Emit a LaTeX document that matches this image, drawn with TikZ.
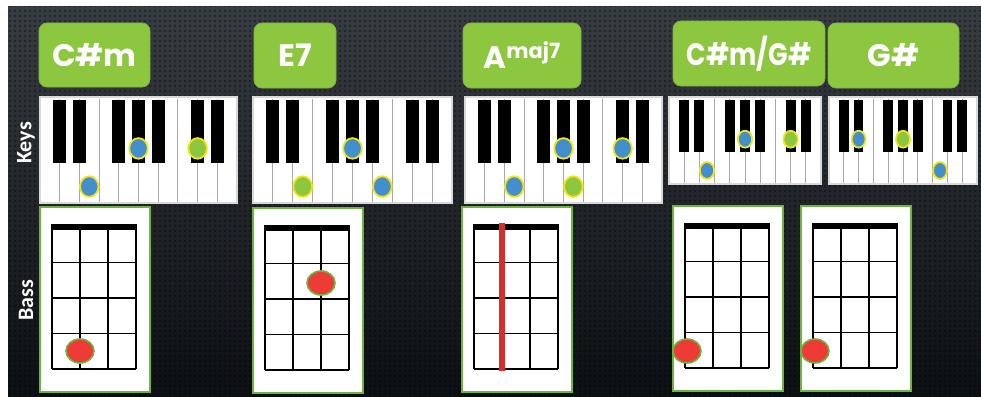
\documentclass[tikz,border=0pt]{standalone}
\usepackage{fontspec}
\newfontfamily\lblfont{Poppins}
\newfontfamily\sidefont{Carlito}
\usetikzlibrary{calc,patterns.meta}
\definecolor{bgtop}{HTML}{383D43}
\definecolor{bgbot}{HTML}{0C0F13}
\definecolor{chordgreen}{HTML}{8DC63F}
\definecolor{chordedge}{HTML}{7DB536}
\definecolor{kbgrey}{HTML}{D8D8D8}
\definecolor{keygrey}{HTML}{A8A8A8}
\definecolor{dotyellow}{HTML}{F2E417}
\definecolor{dotblue}{HTML}{438ECD}
\definecolor{dotgreen}{HTML}{8DC63F}
\definecolor{fretgreen}{HTML}{6DB33F}
\definecolor{fingerred}{HTML}{EE3B36}
\definecolor{barred}{HTML}{D2302C}
\tikzset{
  chord/.style={draw=chordedge, fill=chordgreen, rounded corners=8pt, line width=0.8pt,
    inner sep=0pt, text=white, font=\lblfont\bfseries\fontsize{31}{31}\selectfont},
  kbframe/.style={draw=kbgrey, fill=white, line width=1.6pt, inner sep=0pt, outer sep=0pt},
  keyline/.style={draw=keygrey, line width=0.9pt},
  blackkey/.style={fill=black},
  notedot/.style={draw=dotyellow, line width=1.8pt},
  fretbox/.style={draw=fretgreen, fill=white, line width=1.8pt, inner sep=0pt, outer sep=0pt},
  gridline/.style={draw=black, line width=1.2pt},
  fingerdot/.style={draw=fretgreen, fill=fingerred, line width=1.6pt},
  barre/.style={draw=barred, line width=6pt},
  side/.style={text=white, font=\sidefont\bfseries\fontsize{22}{22}\selectfont, rotate=90, inner sep=0pt},
}
% keyboard: x y w h name
\newcommand\kbd[5]{%
  \node[kbframe, minimum width=#3pt, minimum height=#4pt, anchor=north west] (#5) at (#1,#2) {};
  \pgfmathsetmacro\kw{#3/10}%
  \pgfmathsetmacro\bw{0.66*#3/10}%
  \pgfmathsetmacro\bh{0.6*#4}%
  \foreach \i in {1,...,9}{\draw[keyline] ({#1+\i*\kw},{#2+1.5}) -- ({#1+\i*\kw},{#2+#4-1.5});}
  \foreach \i in {1,2,4,5,6,8,9}{\fill[blackkey] ({#1+\i*\kw-\bw/2},{#2+2.5}) rectangle ({#1+\i*\kw+\bw/2},{#2+2.5+\bh});}
}
% dot on white key: x y w h index colour
\newcommand\kdotw[6]{%
  \filldraw[notedot, fill=#6] ({#1+(#5+0.5)*#3/10},{#2+0.845*#4}) ellipse[x radius={0.047*#3}, y radius={0.097*#4}];
}
% dot on black key: x y w h boundary colour
\newcommand\kdotb[6]{%
  \filldraw[notedot, fill=#6] ({#1+#5*#3/10},{#2+0.485*#4}) ellipse[x radius={0.047*#3}, y radius={0.097*#4}];
}
% fretboard: x y name
\newcommand\fret[3]{%
  \node[fretbox, minimum width=110pt, minimum height=185pt, anchor=north west] (#3) at (#1,#2) {};
  \foreach \c in {0,1,2,3}{\draw[gridline] ({#1+12+\c*28},{#2+20}) -- ({#1+12+\c*28},{#2+162});}
  \foreach \r in {1,2,3,4}{\draw[gridline] ({#1+12},{#2+20+\r*35.5}) -- ({#1+96},{#2+20+\r*35.5});}
  \fill ({#1+11.4},{#2+17}) rectangle ({#1+96.6},{#2+23});
}
\begin{document}
\begin{tikzpicture}[x=1pt, y=-1pt]
\useasboundingbox (0,0) rectangle (981,396);
\shade[top color=bgtop, bottom color=bgbot] (8,7) rectangle (981,396);
\fill[pattern={Dots[radius=1.1pt, distance=5pt]}, pattern color=black, opacity=0.45] (8,7) rectangle (981,396);

% chord labels
\node[chord, minimum width=111pt, minimum height=64pt] (lcm) at (94.5,55) {C\#m};
\node[chord, minimum width=82pt, minimum height=65pt] (le7) at (295,55.5) {E7};
\node[chord, minimum width=118pt, minimum height=65pt] (lam) at (522,55.5) {A\raisebox{10pt}{\fontsize{21}{21}\selectfont maj7}};
\node[chord, minimum width=152pt, minimum height=65pt] (lcg) at (749,53.5) {\scalebox{0.83}[1]{C\#m/G\#}};
\node[chord, minimum width=131pt, minimum height=65pt] (lg) at (893.5,55.5) {G\#};

% side labels
\node[side] (keys) at (26,143) {Keys};
\node[side] (bass) at (26,300) {Bass};

% keyboards
\kbd{40}{97}{197}{106}{k1}
\kdotw{40}{97}{197}{106}{2}{dotblue}
\kdotb{40}{97}{197}{106}{5}{dotblue}
\kdotb{40}{97}{197}{106}{8}{dotgreen}

\kbd{253}{97}{199}{106}{k2}
\kdotw{253}{97}{199}{106}{2}{dotgreen}
\kdotb{253}{97}{199}{106}{5}{dotblue}
\kdotw{253}{97}{199}{106}{6}{dotblue}

\kbd{465}{97}{197}{106}{k3}
\kdotw{465}{97}{197}{106}{2}{dotblue}
\kdotb{465}{97}{197}{106}{5}{dotblue}
\kdotw{465}{97}{197}{106}{5}{dotgreen}
\kdotb{465}{97}{197}{106}{8}{dotblue}

\kbd{669}{97}{152}{87}{k4}
\kdotw{669}{97}{152}{87}{2}{dotblue}
\kdotb{669}{97}{152}{87}{5}{dotblue}
\kdotb{669}{97}{152}{87}{8}{dotgreen}

\kbd{829}{97}{148}{87}{k5}
\kdotb{829}{97}{148}{87}{2}{dotblue}
\kdotb{829}{97}{148}{87}{5}{dotgreen}
\kdotw{829}{97}{148}{87}{7}{dotblue}

% fretboards
\fret{40}{207}{f1}
\filldraw[fingerdot] (80,351) ellipse[x radius=14, y radius=12];
\fret{253}{208}{f2}
\filldraw[fingerdot] (321,283) ellipse[x radius=14, y radius=12];
\fret{462}{207}{f3}
\draw[barre] (502,223) -- (502,371);
\fret{673}{206}{f4}
\filldraw[fingerdot] (687,351) ellipse[x radius=14, y radius=12];
\fret{801}{206}{f5}
\filldraw[fingerdot] (815,351) ellipse[x radius=14, y radius=12];
\end{tikzpicture}
\end{document}
